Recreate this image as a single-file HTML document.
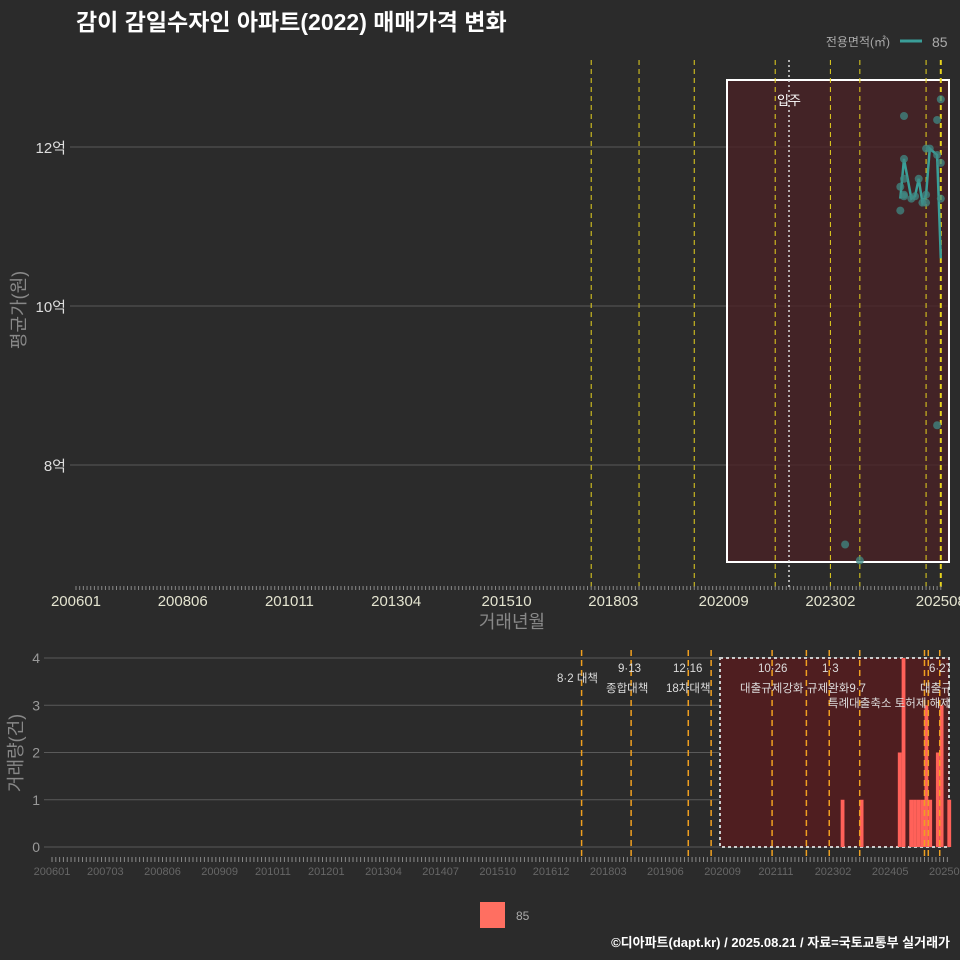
<!DOCTYPE html>
<html><head><meta charset="utf-8">
<style>
html,body{margin:0;padding:0;overflow:hidden;background:#2b2b2b;font-family:"Liberation Sans","Noto Sans CJK KR",sans-serif;}
svg{display:block;}
svg text{font-family:"Liberation Sans","Noto Sans CJK KR",sans-serif;}
</style></head>
<body>
<svg id="c" width="960" height="960" viewBox="0 0 960 960">
<defs><clipPath id="clipB"><rect x="0" y="640" width="950" height="230"/></clipPath></defs>
<rect width="960" height="960" fill="#2b2b2b"/>
<text x="76" y="30" fill="#fff" font-size="23" font-weight="bold">감이 감일수자인 아파트(2022) 매매가격 변화</text>
<text x="890" y="46" fill="#aaa" font-size="12" text-anchor="end">전용면적(㎡)</text>
<line x1="900" y1="41" x2="922" y2="41" stroke="#3a9e98" stroke-width="3"/>
<text x="932" y="47" fill="#aaa" font-size="14">85</text>
<g id="gtop"></g>
<g id="gbot"></g>
<text x="25" y="310" fill="#888" font-size="18" text-anchor="middle" transform="rotate(-90 25 310)">평균가(원)</text>
<text x="512" y="628" fill="#888" font-size="18" text-anchor="middle">거래년월</text>
<text x="22" y="753" fill="#888" font-size="18" text-anchor="middle" transform="rotate(-90 22 753)">거래량(건)</text>
<rect x="480" y="902" width="25" height="26" fill="#ff6f61"/>
<text x="516" y="920" fill="#aaa" font-size="12">85</text>
<text x="950" y="947" fill="#fff" font-size="13" font-weight="bold" text-anchor="end">©디아파트(dapt.kr) / 2025.08.21 / 자료=국토교통부 실거래가</text>
</svg>
<script>
// ---- data ----
const priceMonths = ["202306","202310","202409","202409","202410","202410","202410","202410","202410","202412","202501","202502","202503","202504","202504","202504","202505","202507","202507","202507","202508","202508","202508"];
const priceValues = [7.0,6.8,11.5,11.2,12.39,11.85,11.6,11.38,11.4,11.35,11.38,11.6,11.3,11.3,11.98,11.4,11.98,12.34,11.9,8.5,11.8,11.35,12.6];
const lineMonths = ["202409","202410","202412","202501","202502","202503","202504","202505","202507","202508"];
const lineValues = [11.35,11.85,11.35,11.38,11.6,11.3,11.4,11.98,11.9,10.6];
const volMonths = ["202304","202309","202407","202408","202410","202411","202412","202501","202502","202503","202505","202506","202508"];
const volValues = [1,1,2,4,1,1,1,1,3,1,2,3,1];
const priceTicks = [8,10,12];
const priceTickLabels = ["8억","10억","12억"];
const volTicks = [0,1,2,3,4];
const topXLabels = ["200601","200806","201011","201304","201510","201803","202009","202302","202508"];
const botXLabels = ["200601","200703","200806","200909","201011","201201","201304","201407","201510","201612","201803","201906","202009","202111","202302","202405","202508"];
const policyMonths = ["201709","201810","202001","202111","202302","202310","202504","202508"];
const botPolicyMonths = ["201708","201809","201912","202006","202110","202207","202301","202309","202502","202503","202506"];

const NS="http://www.w3.org/2000/svg";
function el(p,t,a){const e=document.createElementNS(NS,t);for(const k in a)e.setAttribute(k,a[k]);p.appendChild(e);return e;}
function mi(s){return (parseInt(s.slice(0,4))-2006)*12+parseInt(s.slice(4))-1;}
const xT=m=>76+mi(m)*3.68, yT=v=>147+(12-v)*79.5;
const xB=m=>52+mi(m)*3.81, yB=v=>847-v*47.25;
const gTop=document.getElementById('gtop'), gBot=document.getElementById('gbot');

// top grid
priceTicks.forEach((v,i)=>{
  const g=el(gTop,'line',{x1:70,x2:950,y1:yT(v),y2:yT(v),stroke:'#5a5a5a','stroke-width':1});
  
  
  const t=el(gTop,'text',{x:66,y:yT(v)+6,fill:'#ddd','font-size':15,'text-anchor':'end'});t.textContent=priceTickLabels[i];
  
  
});
let r=el(gTop,'rect',{x:727,y:80,width:222,height:482,fill:'#4a2226',stroke:'#fff','stroke-width':2,'fill-opacity':0.8});


policyMonths.forEach((m,i)=>{
  const l=el(gTop,'line',{x1:xT(m),x2:xT(m),y1:60,y2:588,stroke:'#e6d21e','stroke-width':i==7?2:1,'stroke-dasharray':'5,4'});
  
  
});
let od=el(gTop,'line',{x1:789,x2:789,y1:60,y2:588,stroke:'#ddd','stroke-width':1.5,'stroke-dasharray':'2,3'});


let ot=el(gTop,'text',{x:789,y:105,fill:'#fff','font-size':13,'text-anchor':'middle'});ot.textContent='입주';


let pl=el(gTop,'polyline',{points:lineMonths.map((m,i)=>xT(m)+','+yT(lineValues[i])).join(' '),fill:'none',stroke:'#3a9e98','stroke-width':2.5});


priceMonths.forEach((m,i)=>{
  const c=el(gTop,'circle',{cx:xT(m),cy:yT(priceValues[i]),r:4,fill:'#3f8a84','fill-opacity':0.75});
  
  
});
for(let m=0;m<=235;m++){el(gTop,'line',{x1:76+m*3.68,x2:76+m*3.68,y1:586,y2:590,stroke:'#888','stroke-width':1});}
topXLabels.forEach(s=>{
  const t=el(gTop,'text',{x:xT(s),y:606,fill:'#e4e4d0','font-size':15,'text-anchor':'middle'});t.textContent=s;
  
  
});

// bottom
volTicks.forEach(v=>{
  const g=el(gBot,'line',{x1:44,x2:950,y1:yB(v),y2:yB(v),stroke:'#5a5a5a'});
  
  
  const t=el(gBot,'text',{x:40,y:yB(v)+5,fill:'#999','font-size':14,'text-anchor':'end'});t.textContent=v;
  
  
});
let br=el(gBot,'rect',{x:720,y:658,width:229,height:189,fill:'#4f1e20',stroke:'#ccc','stroke-width':2,'stroke-dasharray':'3,3'});


volMonths.forEach((m,i)=>{
  const b=el(gBot,'rect',{x:xB(m),y:yB(volValues[i]),width:3.8,height:volValues[i]*47.25,fill:'#ff6159'});
  
  
});
botPolicyMonths.forEach(m=>{
  const l=el(gBot,'line',{x1:xB(m),x2:xB(m),y1:650,y2:858,stroke:'#f0a020','stroke-width':1.5,'stroke-dasharray':'6,4'});
  
  
});
const annG=el(gBot,'g',{'clip-path':'url(#clipB)'});
const anns=[[557,682,"8·2 대책"],[618,672,"9·13"],[606,692,"종합대책"],[673,672,"12·16"],[666,692,"18차대책"],[758,672,"10·26"],[822,672,"1·3"],[740,692,"대출규제강화"],[807,692,"규제완화9·7"],[828,707,"특례대출축소 토허제 해제"],[929,672,"6·27"],[920,692,"대출규제"]];
anns.forEach(a=>{
  const t=el(annG,'text',{x:a[0],y:a[1],fill:'#ddd','font-size':11.5});t.textContent=a[2];
  
  
});
for(let m=0;m<=235;m++){el(gBot,'line',{x1:52+m*3.81,x2:52+m*3.81,y1:857,y2:862,stroke:'#888','stroke-width':1});}
botXLabels.forEach(s=>{
  const t=el(gBot,'text',{x:xB(s),y:875,fill:'#666','font-size':11,'text-anchor':'middle'});t.textContent=s;
  
  
});
</script>
</body></html>
